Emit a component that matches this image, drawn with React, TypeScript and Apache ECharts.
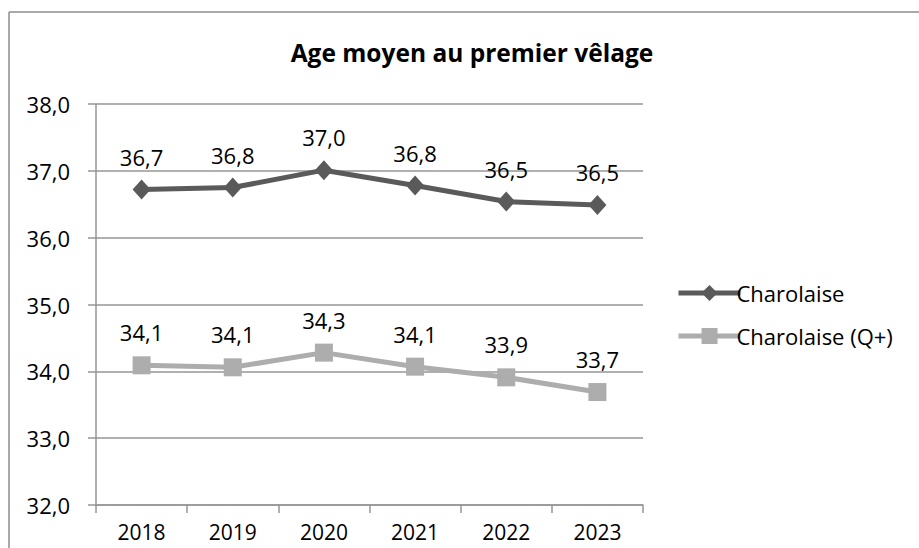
import React, { useEffect, useRef } from "react";
import * as echarts from "echarts";

const years = ["2018", "2019", "2020", "2021", "2022", "2023"];
const charolaise = [36.72, 36.75, 37.01, 36.78, 36.54, 36.49];
const charolaiseQ = [34.09, 34.06, 34.28, 34.07, 33.91, 33.69];
const title = "Age moyen au premier vêlage";
const seriesNames = ["Charolaise", "Charolaise (Q+)"];

const FONT = "'Open Sans', 'Noto Sans', sans-serif";
const fmt = (v: number) => v.toFixed(1).replace(".", ",");

export default function App() {
  const ref = useRef<HTMLDivElement>(null);
  useEffect(() => {
    if (!ref.current) return;
    const chart = echarts.init(ref.current, undefined, { renderer: "svg" });
    chart.setOption({
      animation: false,
      backgroundColor: "#fff",
      textStyle: { fontFamily: FONT },
      title: {
        text: title,
        left: 467,
        textAlign: "center",
        top: 35,
        textStyle: { fontFamily: FONT, fontWeight: "bold", fontSize: 24.5, color: "#000" },
      },
      grid: { left: 96, right: 276, top: 104, bottom: 43 },
      legend: {
        orient: "vertical",
        left: 671,
        top: 277,
        itemWidth: 62,
        itemHeight: 20,
        itemGap: 21,
        data: [
          { name: seriesNames[0], lineStyle: { width: 5 } },
          { name: seriesNames[1], lineStyle: { width: 5 } },
        ],
        textStyle: { fontFamily: FONT, fontSize: 22, color: "#000", padding: [0, 0, 0, -9] },
      },
      xAxis: {
        type: "category",
        data: years,
        boundaryGap: true,
        axisLine: { lineStyle: { color: "#969696", width: 1.5 } },
        axisTick: { show: true, length: 8, lineStyle: { color: "#969696", width: 1.5 } },
        axisLabel: { fontFamily: FONT, fontSize: 21, lineHeight: 20, color: "#000", margin: 17 },
      },
      yAxis: {
        type: "value",
        min: 32,
        max: 38,
        interval: 1,
        axisLine: { show: true, lineStyle: { color: "#969696", width: 1.5 } },
        axisTick: { show: true, length: 8, lineStyle: { color: "#969696", width: 1.5 } },
        splitLine: { lineStyle: { color: "#969696", width: 1.5 } },
        axisLabel: { fontFamily: FONT, fontSize: 22, color: "#000", margin: 26, formatter: (v: number) => fmt(v) },
      },
      series: [
        {
          name: seriesNames[0],
          type: "line",
          data: charolaise,
          symbol: "diamond",
          symbolSize: [18, 20],
          itemStyle: { color: "#5a5a5a" },
          lineStyle: { color: "#5a5a5a", width: 5 },
          label: {
            show: true,
            position: "top",
            distance: 12,
            fontFamily: FONT,
            fontSize: 22,
            color: "#000",
            formatter: (p: any) => fmt(p.value),
          },
        },
        {
          name: seriesNames[1],
          type: "line",
          data: charolaiseQ,
          symbol: "rect",
          symbolSize: 18,
          itemStyle: { color: "#adadad" },
          lineStyle: { color: "#adadad", width: 5 },
          label: {
            show: true,
            position: "top",
            distance: 13,
            fontFamily: FONT,
            fontSize: 22,
            color: "#000",
            formatter: (p: any) => fmt(p.value),
          },
        },
      ],
      graphic: [
        { type: "line", shape: { x1: 9, y1: 12, x2: 919, y2: 12 }, style: { stroke: "#8c8c8c", lineWidth: 1.5 } },
        { type: "line", shape: { x1: 9, y1: 12, x2: 9, y2: 548 }, style: { stroke: "#8c8c8c", lineWidth: 1.5 } },
      ],
    });
    return () => chart.dispose();
  }, []);
  return (
    <div
      ref={ref}
      style={{ position: "absolute", left: 0, top: 0, width: 919, height: 548 }}
    />
  );
}
